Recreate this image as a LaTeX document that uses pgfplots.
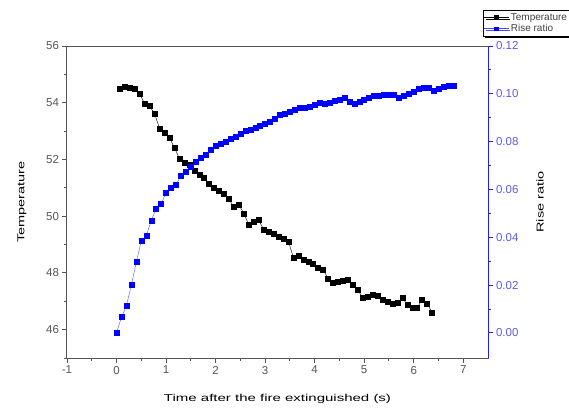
\documentclass[border=0pt]{standalone}
\usepackage{graphicx}
\usepackage{pgfplots}
\pgfplotsset{compat=1.18}
\usepackage{pgfplotstable}
\usepackage{fontspec}
\setmainfont{Liberation Sans}
\usetikzlibrary{shadows}
\definecolor{tickgray}{HTML}{555555}
\definecolor{rblue}{HTML}{2020FF}
\definecolor{rtick}{HTML}{5C5CE0}

\pgfplotstableread{
t T
0.07 54.49
0.17 54.57
0.27 54.53
0.37 54.50
0.47 54.31
0.57 53.96
0.67 53.88
0.77 53.60
0.87 53.09
0.97 52.96
1.07 52.76
1.17 52.41
1.27 52.03
1.37 51.90
1.47 51.82
1.57 51.62
1.67 51.46
1.77 51.35
1.87 51.15
1.97 51.00
2.07 50.91
2.17 50.78
2.27 50.60
2.37 50.32
2.47 50.40
2.57 50.10
2.67 49.70
2.77 49.80
2.87 49.86
2.97 49.53
3.07 49.45
3.17 49.38
3.27 49.28
3.37 49.22
3.47 49.11
3.57 48.55
3.67 48.60
3.77 48.47
3.87 48.41
3.97 48.32
4.07 48.20
4.17 48.12
4.27 47.80
4.37 47.65
4.47 47.70
4.57 47.74
4.67 47.76
4.77 47.60
4.87 47.40
4.97 47.13
5.07 47.17
5.17 47.23
5.27 47.18
5.37 47.07
5.47 46.97
5.57 46.90
5.67 46.95
5.77 47.12
5.87 46.88
5.97 46.77
6.07 46.77
6.17 47.06
6.27 46.92
6.37 46.61
}\temptable

\pgfplotstableread{
t R
0.0 0.0000
0.1 0.0066
0.2 0.0113
0.3 0.0201
0.4 0.0296
0.5 0.0385
0.6 0.0406
0.7 0.0470
0.8 0.0519
0.9 0.0540
1.0 0.0585
1.1 0.0607
1.2 0.0621
1.3 0.0656
1.4 0.0673
1.5 0.0697
1.6 0.0718
1.7 0.0732
1.8 0.0746
1.9 0.0767
2.0 0.0781
2.1 0.0791
2.2 0.0800
2.3 0.0812
2.4 0.0822
2.5 0.0835
2.6 0.0845
2.7 0.0852
2.8 0.0858
2.9 0.0868
3.0 0.0876
3.1 0.0884
3.2 0.0898
3.3 0.0912
3.4 0.0918
3.5 0.0926
3.6 0.0933
3.7 0.0940
3.8 0.0944
3.9 0.0947
4.0 0.0955
4.1 0.0961
4.2 0.0957
4.3 0.0962
4.4 0.0971
4.5 0.0975
4.6 0.0985
4.7 0.0965
4.8 0.0960
4.9 0.0968
5.0 0.0975
5.1 0.0985
5.2 0.0993
5.3 0.0994
5.4 0.0996
5.5 0.0996
5.6 0.0995
5.7 0.0983
5.8 0.0993
5.9 0.0999
6.0 0.1008
6.1 0.1020
6.2 0.1024
6.3 0.1024
6.4 0.1013
6.5 0.1022
6.6 0.1031
6.7 0.1033
6.8 0.1035
}\ratiotable

\begin{document}
\begin{tikzpicture}
\useasboundingbox (-67pt,-50pt) rectangle (502pt,358pt);
\begin{axis}[
  at={(0pt,0pt)}, anchor=south west,
  scale only axis, width=421pt, height=312pt,
  xmin=-1, xmax=7.5, ymin=45, ymax=56,
  xtick={-1,0,1,2,3,4,5,6,7},
  ytick={46,48,50,52,54,56},
  minor xtick={-0.5,0.5,1.5,2.5,3.5,4.5,5.5,6.5},
  minor ytick={45,47,49,51,53,55},
  tick align=outside, xtick pos=bottom, ytick pos=left,
  major tick length=4.5pt, minor tick length=2.5pt,
  axis line style={tickgray, line width=1pt},
  every tick/.style={tickgray, line width=0.9pt},
  /pgf/number format/assume math mode=true,
  tick label style={font=\fontsize{11.5}{13}\selectfont, text=tickgray},
  xlabel={\scalebox{1.5}[1]{Time after the fire extinguished (s)}},
  ylabel={\scalebox{1.45}[1]{Temperature}},
  label style={font=\fontsize{18}{20}\selectfont, text=black!85},
  every axis x label/.style={at={(axis description cs:0.5,-0.13)}, anchor=center},
  every axis y label/.style={at={(axis description cs:-0.107,0.5)}, rotate=90, anchor=center},
]
\addplot[black, line width=0.4pt, mark=square*, mark size=2.5pt, mark options={solid, fill=black}]
  table[x=t, y=T] {\temptable};
\end{axis}
\begin{axis}[
  at={(0pt,0pt)}, anchor=south west,
  scale only axis, width=421pt, height=312pt,
  xmin=-1, xmax=7.5, ymin=-0.0105, ymax=0.12,
  axis x line=none, axis y line*=right,
  ytick={0,0.02,0.04,0.06,0.08,0.10,0.12},
  minor ytick={0.01,0.03,0.05,0.07,0.09,0.11},
  tick align=outside,
  major tick length=4.5pt, minor tick length=2.5pt,
  axis line style={rblue, line width=1pt},
  every tick/.style={rblue, line width=0.9pt},
  scaled y ticks=false,
  /pgf/number format/assume math mode=true,
  yticklabel style={font=\fontsize{11.5}{13}\selectfont, text=rtick,
    /pgf/number format/.cd, fixed, fixed zerofill, precision=2},
  ylabel={\scalebox{1.45}[1]{Rise ratio}},
  label style={font=\fontsize{18}{20}\selectfont, text=black!85},
  every axis y label/.style={at={(axis description cs:1.1235,0.5)}, rotate=90, anchor=center},
  legend style={at={(axis description cs:0.988,1.115)}, anchor=north west,
    font=\fontsize{10}{10}\selectfont, text=black!75, draw=black, line width=0.5pt,
    fill=white, inner sep=1pt, row sep=-1.5pt,
    general shadow={fill=black, shadow xshift=1.5pt, shadow yshift=-2pt},
    cells={anchor=west}},
  legend image code/.code={\draw[#1, mark=none, line width=0.5pt] (0cm,0cm) -- (0.85cm,0cm);
    \draw[#1, only marks, mark size=1.9pt] plot coordinates {(0.425cm,0cm)};},
]
\addlegendimage{black, mark=square*, mark options={fill=black}}
\addlegendentry{Temperature}
\addplot[blue!70, line width=0.4pt, mark=square*, mark size=2.5pt, mark options={solid, fill=blue, draw=blue}]
  table[x=t, y=R] {\ratiotable};
\addlegendentry{Rise ratio}
\end{axis}
\end{tikzpicture}
\end{document}
